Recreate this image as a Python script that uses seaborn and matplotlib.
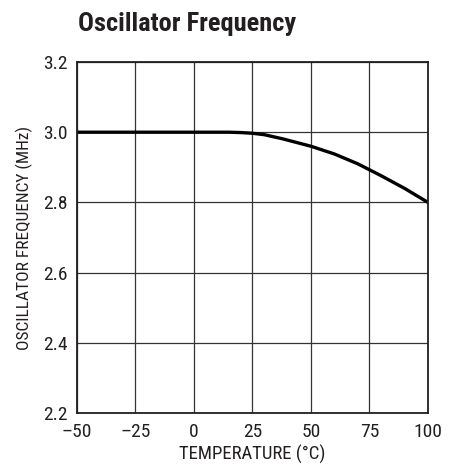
import numpy as np
import pandas as pd
import matplotlib
matplotlib.use('Agg')
import matplotlib.pyplot as plt
import seaborn as sns

temperature = [-50, -25, 0, 15, 20, 25, 30, 38, 50, 60, 70, 75, 80, 90, 100]
frequency = [3.0, 3.0, 3.0, 3.0, 2.999, 2.997, 2.993, 2.981, 2.960, 2.938, 2.910, 2.893, 2.876, 2.840, 2.800]
x_ticks = [-50, -25, 0, 25, 50, 75, 100]
x_tick_labels = ['\u201350', '\u201325', '0', '25', '50', '75', '100']
y_ticks = [2.2, 2.4, 2.6, 2.8, 3.0, 3.2]

df = pd.DataFrame({'temp': temperature, 'freq': frequency})

sns.set_theme(style="white")
plt.rcParams['font.family'] = ['Roboto Condensed', 'Liberation Sans Narrow', 'DejaVu Sans Condensed',
                               'Roboto', 'DejaVu Sans']
plt.rcParams['font.stretch'] = 'condensed'

fig = plt.figure(figsize=(4.5, 4.68), dpi=100)
ax = fig.add_axes([0.171, 0.1175, 0.78, 0.75])

sns.lineplot(data=df, x='temp', y='freq', ax=ax, color='black', linewidth=2.4)

ax.set_xlim(-50, 100)
ax.set_ylim(2.2, 3.2)
ax.set_xticks(x_ticks)
ax.set_xticklabels(x_tick_labels)
ax.set_yticks(y_ticks)
ax.set_yticklabels([f'{v:.1f}' for v in y_ticks])
ax.grid(True, color='#333333', linewidth=0.9)
ax.tick_params(length=0, labelsize=14, colors='#231f20')
ax.tick_params(axis='y', pad=7)
ax.tick_params(axis='x', pad=7)
for s in ax.spines.values():
    s.set_color('#231f20')
    s.set_linewidth(1.3)

ax.set_xlabel('TEMPERATURE (\u00b0C)', fontsize=13.5, color='#231f20', labelpad=3)
ax.set_ylabel('OSCILLATOR FREQUENCY (MHz)', fontsize=12.5, color='#231f20', labelpad=7)

fig.text(78 / 450, 1 - 24 / 468, 'Oscillator Frequency', fontsize=19, fontweight='bold',
         color='#231f20', va='center', ha='left')

fig.savefig('out.png', dpi=100, facecolor='white')
